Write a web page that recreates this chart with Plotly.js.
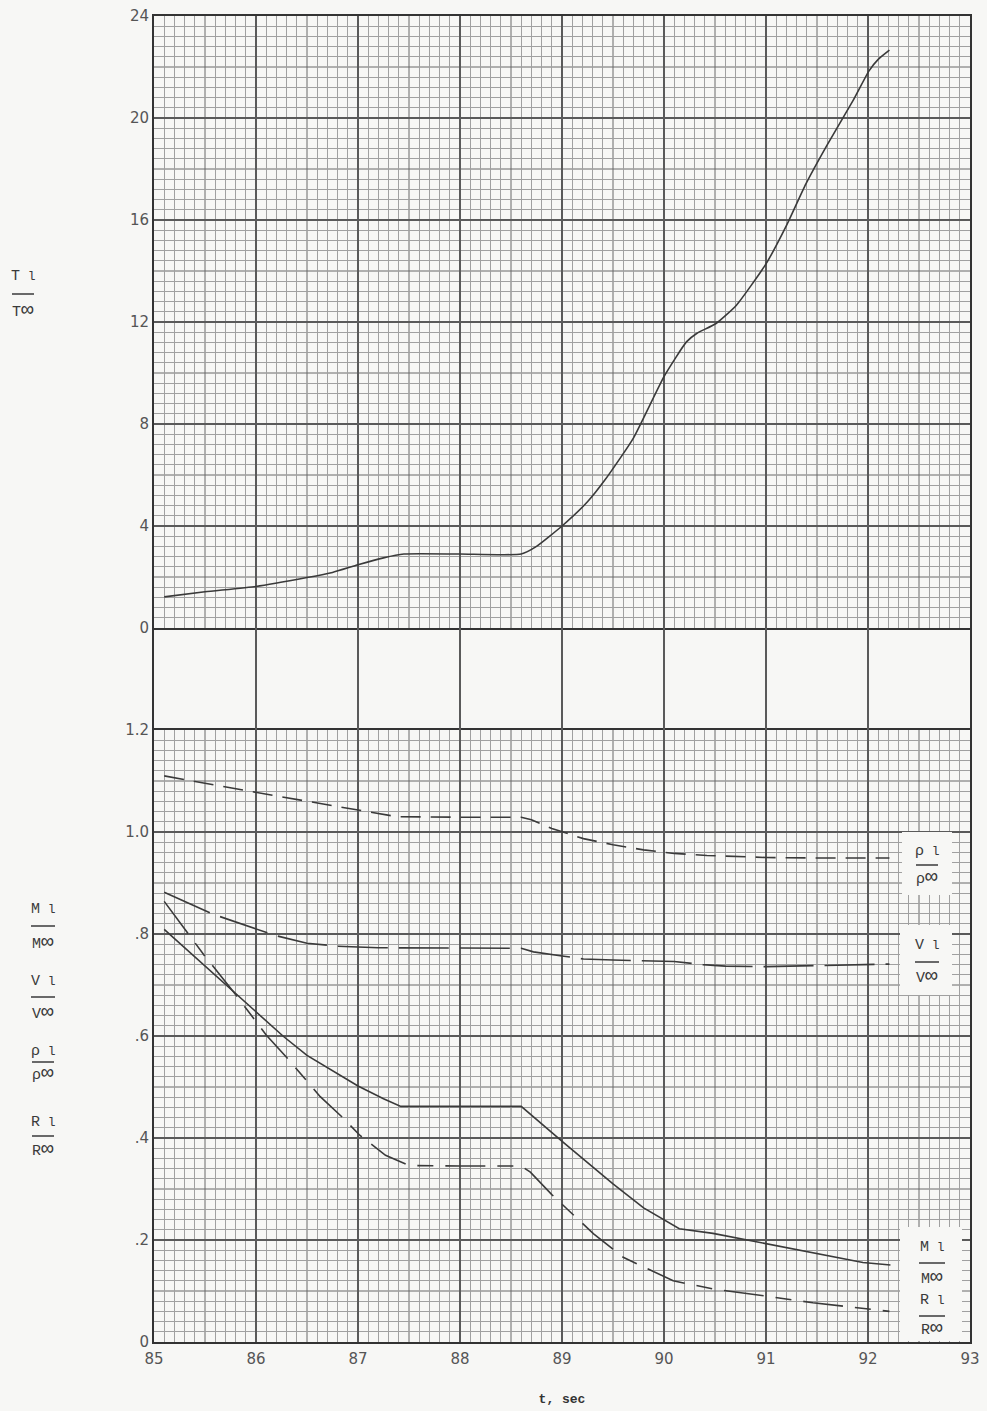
<!DOCTYPE html>
<html>
<head>
<meta charset="utf-8">
<script src="https://cdn.plot.ly/plotly-3.0.1.min.js"></script>
<style>
  html, body { margin: 0; padding: 0; background: #f7f7f5; }
  #chart { width: 987px; height: 1411px; }
</style>
</head>
<body>
<div id="chart"></div>
<script>
// ---------------- data ----------------
const tTemp = [85.1, 85.5, 86.0, 86.5, 86.75, 87.0, 87.25, 87.45, 88.0, 88.6, 88.75, 89.0, 89.25, 89.42, 89.7, 90.0, 90.22, 90.32, 90.51, 90.71, 91.0, 91.2, 91.39, 91.6, 91.85, 92.01, 92.1, 92.21];
const tempRatio = [1.22, 1.42, 1.63, 1.98, 2.18, 2.48, 2.75, 2.9, 2.9, 2.9, 3.2, 4.0, 4.95, 5.8, 7.45, 9.86, 11.22, 11.55, 11.94, 12.66, 14.28, 15.78, 17.41, 18.95, 20.66, 21.85, 22.3, 22.66];

const tRho = [85.1, 85.59, 86.19, 86.8, 87.38, 88.0, 88.6, 88.7, 88.9, 89.21, 89.5, 89.8, 90.1, 90.42, 91.0, 91.5, 92.21];
const rhoRatio = [1.110, 1.092, 1.071, 1.050, 1.030, 1.029, 1.029, 1.024, 1.007, 0.987, 0.975, 0.965, 0.958, 0.954, 0.950, 0.949, 0.949];

const tVel = [85.1, 85.59, 86.19, 86.5, 86.8, 87.2, 88.6, 88.72, 89.0, 89.21, 89.5, 89.8, 90.1, 90.38, 90.6, 91.0, 91.5, 92.21];
const velRatio = [0.882, 0.838, 0.797, 0.782, 0.776, 0.773, 0.772, 0.765, 0.757, 0.751, 0.749, 0.748, 0.746, 0.740, 0.737, 0.736, 0.738, 0.741];

const tMach = [85.1, 85.5, 86.0, 86.27, 86.5, 86.8, 87.0, 87.25, 87.42, 88.0, 88.6, 89.01, 89.5, 89.8, 90.15, 90.48, 91.02, 91.46, 91.95, 92.22];
const machRatio = [0.809, 0.737, 0.648, 0.599, 0.562, 0.527, 0.502, 0.477, 0.462, 0.462, 0.462, 0.392, 0.310, 0.263, 0.222, 0.213, 0.192, 0.174, 0.156, 0.151];

const tRey = [85.1, 85.49, 85.79, 86.1, 86.31, 86.63, 86.85, 87.02, 87.27, 87.5, 88.0, 88.6, 88.69, 88.9, 89.31, 89.6, 90.09, 90.48, 91.0, 91.46, 92.21];
const reyRatio = [0.864, 0.759, 0.684, 0.602, 0.556, 0.481, 0.440, 0.405, 0.366, 0.346, 0.345, 0.345, 0.333, 0.289, 0.212, 0.166, 0.120, 0.104, 0.090, 0.077, 0.060];

const xTicks = [85, 86, 87, 88, 89, 90, 91, 92, 93];
const topTicks = [0, 4, 8, 12, 16, 20, 24];
const botTicks = [0, 0.2, 0.4, 0.6, 0.8, 1.0, 1.2];
const botTickText = ['0', '.2', '.4', '.6', '.8', '1.0', '1.2'];

// ---------------- styling ----------------
const BG = '#f7f7f5';
const INK = '#3a3a3a';
const MAJOR = '#5a5a5a', MEDIUM = '#686868', MINOR = '#a0a0a0';
const MONO = 'Liberation Mono, Courier New, monospace';
const TICKFONT = {family: 'DejaVu Sans, sans-serif', size: 15, color: '#555'};

// graph-paper grid positions: minor lines skip the medium/major positions
function paperLines(start, major, nMajor, sub) {
  const minor = [], medium = [];
  for (let i = 0; i < nMajor; i++) {
    for (let j = 1; j < sub; j++) {
      const v = +(start + i * major + j * major / sub).toFixed(6);
      if (j === sub / 2) medium.push(v); else minor.push(v);
    }
  }
  return {minor, medium};
}
const gx = paperLines(85, 1, 8, 10);
const gyTop = paperLines(0, 4, 6, 10);
const gyBot = paperLines(0, 0.2, 6, 10);

// page-pixel -> paper helpers (plot box: x 154..970, y 16..1342; 102 px per major division)
const L = 154, R = 970, T = 16, B = 1342;
const W = R - L, H = B - T;
const px = v => (v - L) / W;
const py = v => (B - v) / H;

const dTop = [py(628), 1];
const dGap = [py(730), py(628)];
const dBot = [0, py(730)];

const lineStyle = (dash) => ({color: INK, width: 1.6, dash: dash});

const traces = [
  {x: tTemp, y: tempRatio, xaxis: 'x2', yaxis: 'y2', mode: 'lines', line: Object.assign(lineStyle('solid'), {shape: 'spline', smoothing: 0.5}), name: 'T'},
  {x: tRho, y: rhoRatio, xaxis: 'x', yaxis: 'y', mode: 'lines', line: lineStyle('20px,10px'), name: 'rho'},
  {x: tVel, y: velRatio, xaxis: 'x', yaxis: 'y', mode: 'lines', line: lineStyle('50px,11px'), name: 'V'},
  {x: tMach, y: machRatio, xaxis: 'x', yaxis: 'y', mode: 'lines', line: lineStyle('solid'), name: 'M'},
  {x: tRey, y: reyRatio, xaxis: 'x', yaxis: 'y', mode: 'lines', line: lineStyle('40px,12px,16px,12px'), name: 'R'},
  // invisible trace so the gap subplot is drawn
  {x: [85, 93], y: [0.5, 0.5], xaxis: 'x3', yaxis: 'y3', mode: 'lines', line: {width: 0}, hoverinfo: 'skip', name: 'gap'}
];

const baseX = {
  range: [85, 93], showgrid: true, gridcolor: MAJOR, gridwidth: 1.5,
  tickvals: xTicks, zeroline: false, showline: true, mirror: true,
  linecolor: '#333', linewidth: 2, ticks: '',
  minor: {tickvals: gx.minor, showgrid: true, gridcolor: MINOR, gridwidth: 1, ticks: ''}
};
const baseYLine = {zeroline: false, showline: true, mirror: true, linecolor: '#333', linewidth: 2, ticks: ''};

const layout = {
  width: 987, height: 1411,
  margin: {l: L, r: 987 - R, t: T, b: 1411 - B},
  paper_bgcolor: BG, plot_bgcolor: BG,
  showlegend: false,
  xaxis: Object.assign({}, baseX, {
    anchor: 'y', tickfont: TICKFONT, ticklabelstandoff: 2,
    title: {text: '<b>t, sec</b>', font: {family: MONO, size: 13, color: '#333'}, standoff: 27}
  }),
  yaxis: Object.assign({}, baseYLine, {
    domain: dBot, range: [0, 1.2], anchor: 'x',
    tickvals: botTicks, ticktext: botTickText, tickfont: TICKFONT,
    showgrid: true, gridcolor: MAJOR, gridwidth: 1.5,
    minor: {tickvals: gyBot.minor, showgrid: true, gridcolor: MINOR, gridwidth: 1, ticks: ''}
  }),
  xaxis2: Object.assign({}, baseX, {anchor: 'y2', showticklabels: false}),
  yaxis2: Object.assign({}, baseYLine, {
    domain: dTop, range: [0, 24], anchor: 'x2',
    tickvals: topTicks, tickfont: TICKFONT,
    showgrid: true, gridcolor: MAJOR, gridwidth: 1.5,
    minor: {tickvals: gyTop.minor, showgrid: true, gridcolor: MINOR, gridwidth: 1, ticks: ''}
  }),
  xaxis3: {
    anchor: 'y3', range: [85, 93], tickvals: xTicks, showticklabels: false,
    showgrid: true, gridcolor: MAJOR, gridwidth: 1.5, zeroline: false, showline: false, ticks: ''
  },
  yaxis3: Object.assign({}, baseYLine, {
    domain: dGap, range: [0, 1], anchor: 'x3', showgrid: false, showticklabels: false
  }),
  shapes: [],
  annotations: []
};

// medium-weight graph paper lines (every half major division), inside each subplot
gx.medium.forEach(xv => {
  layout.shapes.push({type: 'line', layer: 'below', xref: 'x', yref: 'y domain', x0: xv, x1: xv, y0: 0, y1: 1, line: {color: MEDIUM, width: 1}});
  layout.shapes.push({type: 'line', layer: 'below', xref: 'x2', yref: 'y2 domain', x0: xv, x1: xv, y0: 0, y1: 1, line: {color: MEDIUM, width: 1}});
});
gyBot.medium.forEach(yv => layout.shapes.push({type: 'line', layer: 'below', xref: 'x domain', yref: 'y', x0: 0, x1: 1, y0: yv, y1: yv, line: {color: MEDIUM, width: 1}}));
gyTop.medium.forEach(yv => layout.shapes.push({type: 'line', layer: 'below', xref: 'x2 domain', yref: 'y2', x0: 0, x1: 1, y0: yv, y1: yv, line: {color: MEDIUM, width: 1}}));

// white label boxes on the right (page pixels)
const boxes = [[902, 832, 952, 895], [900, 925, 952, 995], [900, 1227, 962, 1341]];
boxes.forEach(b => layout.shapes.push({
  type: 'rect', layer: 'above', xref: 'paper', yref: 'paper',
  x0: px(b[0]), x1: px(b[2]), y0: py(b[3]), y1: py(b[1]),
  fillcolor: BG, line: {width: 0}
}));

// fraction labels: [numerator, denominator, centerX, numY, barY, denY, barHalfWidth]
const num = s => s + '<span style="font-size:13px"> l</span>';
const den = s => s + '<span style="font-size:21px">∞</span>';
const fractions = [
  [num('T'), den('T'), 23, 277, 294, 310, 11],
  [num('M'), den('M'), 43, 909, 926, 942, 12],
  [num('V'), den('V'), 43, 981, 997, 1012, 12],
  [num('ρ'), den('ρ'), 43, 1051, 1062, 1073, 11],
  [num('R'), den('R'), 43, 1122, 1136, 1149, 11],
  [num('ρ'), den('ρ'), 927, 851, 865, 877, 11],
  [num('V'), den('V'), 927, 946, 962, 976, 12],
  [num('M'), den('M'), 932, 1247, 1263, 1277, 13],
  [num('R'), den('R'), 932, 1300, 1316, 1328, 13]
];
const labFont = {family: MONO, size: 15, color: '#3a3a3a'};
fractions.forEach(f => {
  layout.annotations.push({xref: 'paper', yref: 'paper', x: px(f[2]), y: py(f[3]), text: f[0], showarrow: false, xanchor: 'center', yanchor: 'middle', font: labFont});
  layout.annotations.push({xref: 'paper', yref: 'paper', x: px(f[2]), y: py(f[5]), text: f[1], showarrow: false, xanchor: 'center', yanchor: 'middle', font: labFont});
  layout.shapes.push({type: 'line', layer: 'above', xref: 'paper', yref: 'paper',
    x0: px(f[2] - f[6]), x1: px(f[2] + f[6]), y0: py(f[4]), y1: py(f[4]),
    line: {color: '#3a3a3a', width: 1.5}});
});

Plotly.newPlot('chart', traces, layout, {staticPlot: true, displayModeBar: false});
</script>
</body>
</html>
